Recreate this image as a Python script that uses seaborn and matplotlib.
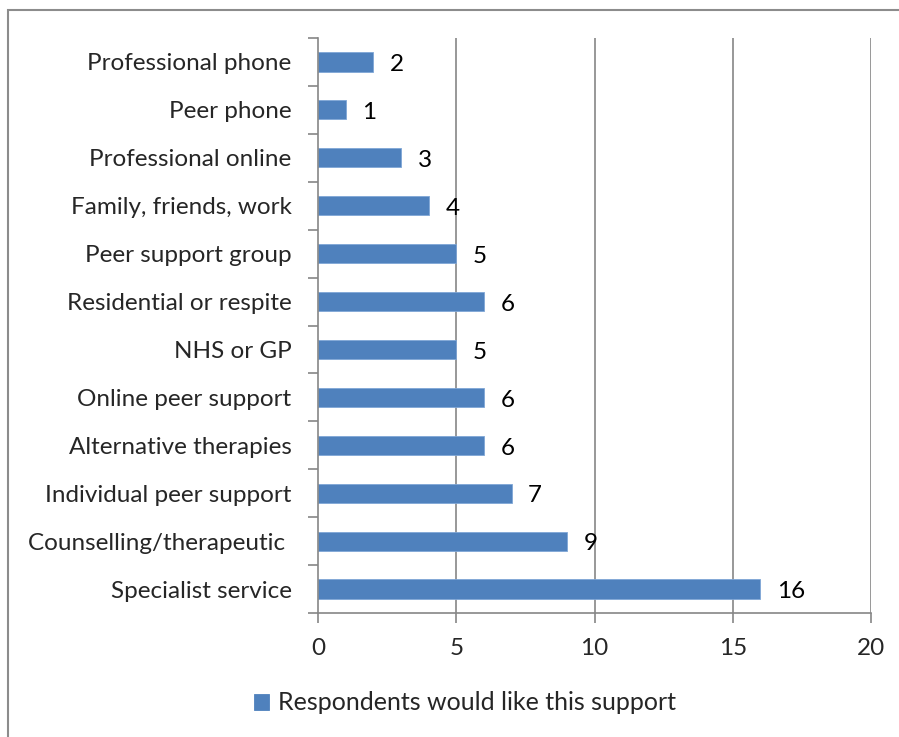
import matplotlib
matplotlib.use("Agg")
import matplotlib.pyplot as plt
from matplotlib.patches import Rectangle
import seaborn as sns
import pandas as pd

categories = [
    "Professional phone", "Peer phone", "Professional online",
    "Family, friends, work", "Peer support group", "Residential or respite",
    "NHS or GP", "Online peer support", "Alternative therapies",
    "Individual peer support", "Counselling/therapeutic ", "Specialist service",
]
values = [2, 1, 3, 4, 5, 6, 5, 6, 6, 7, 9, 16]
series_name = "Respondents would like this support"
x_ticks = [0, 5, 10, 15, 20]

sns.set_style("white")
plt.rcParams["font.family"] = ["Lato", "DejaVu Sans"]
FS = 17.5

df = pd.DataFrame({"support": categories, "count": values})

fig = plt.figure(figsize=(8.99, 7.37), dpi=100)
ax = fig.add_axes([318 / 899, 1 - 613 / 737, (871 - 318) / 899, (613 - 38) / 737])

bar_color = "#4F81BD"
grid_color = "#868686"

sns.barplot(data=df, x="count", y="support", orient="h", color=bar_color,
            width=0.4, ax=ax, saturation=1, edgecolor="#7FA6D6", linewidth=0.6,
            label=series_name)

ax.set_xlim(0, 20)
ax.set_ylim(len(categories) - 0.5, -0.5)
ax.set_xticks(x_ticks)
ax.set_xticklabels([str(t) for t in x_ticks], fontsize=FS)
ax.set_xlabel("")
ax.set_ylabel("")

# category labels sit between tick marks placed at category boundaries
ax.set_yticks(range(len(categories)))
ax.set_yticklabels(categories, fontsize=FS)
ax.tick_params(axis="y", which="major", left=True, length=0, pad=19)
ax.set_yticks([i - 0.5 for i in range(len(categories) + 1)], minor=True)
ax.tick_params(axis="y", which="minor", left=True, length=7, width=1.2,
               color=grid_color, direction="out")
ax.tick_params(axis="x", which="major", bottom=True, length=7, width=1.2,
               color=grid_color, direction="out", pad=11)

# vertical gridlines
for t in x_ticks[1:]:
    ax.axvline(t, color=grid_color, lw=1.2, zorder=0)

for side in ["top", "right"]:
    ax.spines[side].set_visible(False)
for side in ["left", "bottom"]:
    ax.spines[side].set_color(grid_color)
    ax.spines[side].set_linewidth(1.2)

# value labels
for i, v in enumerate(values):
    ax.annotate(str(v), xy=(v, i), xytext=(12, -2), textcoords="offset points",
                ha="left", va="center", fontsize=FS, color="black")

# legend below plot
leg = ax.legend(loc="center", bbox_to_anchor=(465 / 899, 1 - 703 / 737), bbox_transform=fig.transFigure,
                frameon=False, fontsize=18, handlelength=0.6, handleheight=0.6,
                handletextpad=0.35)
for h in leg.legend_handles:
    h.set_edgecolor(bar_color)

# chart border
fig.patches.append(Rectangle((8 / 899, -0.01), 1.0, 1 - 10 / 737 + 0.01, transform=fig.transFigure,
                             fill=False, edgecolor="#8C8C8C", linewidth=1.5))

fig.savefig("out.png", dpi=100)
